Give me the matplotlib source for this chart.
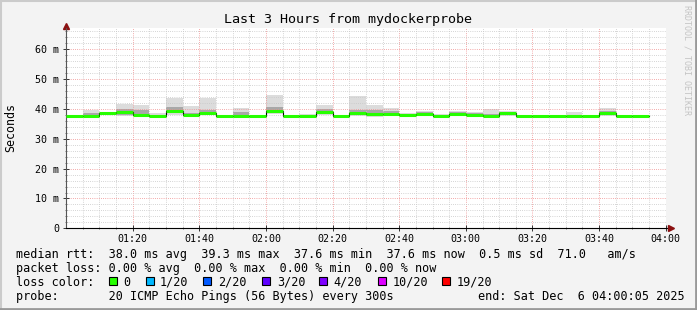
import numpy as np
import matplotlib
matplotlib.use('Agg')
import matplotlib.pyplot as plt
from matplotlib.patches import Rectangle
from matplotlib.ticker import FixedLocator, MultipleLocator

plt.rcParams['font.family'] = 'DejaVu Sans Mono'

# 5 minute steps, minutes after 01:00
step_min = [0, 5, 10, 15, 20, 25, 30, 35, 40, 45, 50, 55, 60, 65, 70, 75, 80, 85,
            90, 95, 100, 105, 110, 115, 120, 125, 130, 135, 140, 145, 150, 155, 160, 165, 170]

# median rtt per step (ms)
median_ms = [37.6, 37.7, 38.8, 39.1, 38.0, 37.6, 39.3, 37.9, 38.8, 37.6, 37.6, 37.6,
             39.3, 37.6, 37.6, 39.1, 37.6, 38.8, 38.3, 38.4, 37.9, 38.3, 37.6, 38.3,
             38.1, 37.7, 38.5, 37.6, 37.6, 37.6, 37.6, 37.6, 38.5, 37.6, 37.6]

# smoke: full spread of the 20 pings
smoke_lo = [37.6, 37.5, 38.7, 37.6, 37.5, 37.5, 38.0, 37.5, 37.9, 37.5, 37.5, 37.5,
            38.2, 37.5, 37.5, 38.0, 37.5, 37.6, 37.3, 37.6, 37.5, 37.6, 37.5, 37.6,
            37.6, 37.5, 37.6, 37.5, 37.5, 37.5, 37.5, 37.5, 37.8, 37.5, 37.5]
smoke_hi = [37.7, 39.5, 38.9, 41.6, 41.3, 38.5, 43.8, 41.0, 43.8, 37.7, 40.4, 37.7,
            44.7, 37.7, 38.4, 41.3, 37.7, 44.3, 41.3, 40.2, 38.8, 39.4, 38.4, 39.3,
            39.1, 40.0, 39.4, 37.7, 37.7, 37.9, 39.1, 37.7, 40.4, 37.7, 37.7]
# smoke: inner (darker) part
core_lo = [37.6, 37.8, 38.8, 38.0, 37.8, 37.6, 38.5, 37.8, 38.3, 37.6, 37.6, 37.6,
           38.6, 37.6, 37.6, 38.4, 37.6, 38.0, 37.6, 37.8, 37.7, 37.9, 37.6, 37.9,
           37.8, 37.6, 37.9, 37.6, 37.6, 37.6, 37.6, 37.6, 37.9, 37.6, 37.6]
core_hi = [37.6, 38.8, 38.8, 40.0, 39.8, 37.9, 40.6, 38.6, 39.6, 37.6, 39.0, 37.6,
           40.8, 37.6, 37.6, 39.9, 37.6, 39.8, 39.8, 39.3, 38.3, 38.9, 37.9, 38.9,
           38.6, 38.4, 39.0, 37.6, 37.6, 37.7, 37.6, 37.6, 39.4, 37.6, 37.6]

x_ticks = [20, 40, 60, 80, 100, 120, 140, 160, 180]
x_labels = ['01:20', '01:40', '02:00', '02:20', '02:40', '03:00', '03:20', '03:40', '04:00']
y_ticks = [0, 10, 20, 30, 40, 50, 60]
y_labels = ['0', '10 m', '20 m', '30 m', '40 m', '50 m', '60 m']

loss_labels = ['0', '1/20', '2/20', '3/20', '4/20', '10/20', '19/20']
loss_colors = ['#26ff00', '#00b8ff', '#0059ff', '#5e00ff', '#7e00ff', '#dd00ff', '#ff0000']

W, H = 697, 310


def fx(x):
    return x / W


def fy(y):
    return 1 - y / H


fig = plt.figure(figsize=(W / 100, H / 100), dpi=100, facecolor='#f3f3f3')
ax = fig.add_axes([fx(66.4), fy(228.3), (666.0 - 66.4) / W, 200 / H])
ax.set_facecolor('white')

edges = np.append(step_min, step_min[-1] + 5)


def ext(a):
    return np.append(a, a[-1])


ax.fill_between(edges, ext(smoke_lo), ext(smoke_hi), step='post', color='#dcdcdc', lw=0, zorder=1)
ax.fill_between(edges, ext(core_lo), ext(core_hi), step='post', color='#a8a8a8', lw=0, zorder=1.1)
ax.step(edges, ext(median_ms), where='post', color='black', lw=0.8, zorder=2.5)
ax.hlines(median_ms, step_min, np.array(step_min) + 5, color=loss_colors[0], lw=2.2,
          capstyle='butt', zorder=3)

ax.set_xlim(0.08, 180.08)
ax.set_ylim(0, 67.05)
ax.xaxis.set_major_locator(FixedLocator(x_ticks))
ax.xaxis.set_minor_locator(MultipleLocator(5))
ax.yaxis.set_major_locator(FixedLocator(y_ticks))
ax.yaxis.set_minor_locator(MultipleLocator(2))
ax.set_xticklabels(x_labels)
ax.set_yticklabels(y_labels)

dots = (0, (0.72, 1.44))
ax.set_axisbelow('line')
ax.grid(which='minor', color='#c8c8c8', lw=0.72, linestyle=dots)
ax.grid(which='major', color='#f09090', lw=0.72, linestyle=dots)

for s in ['top', 'right']:
    ax.spines[s].set_visible(False)
ax.spines['left'].set_color('#555555')
ax.spines['bottom'].set_color('black')
ax.spines['left'].set_linewidth(0.8)
ax.spines['bottom'].set_linewidth(0.8)

ax.tick_params(which='major', direction='inout', length=4, width=0.7, color='#333333',
               labelsize=7.2, pad=2)
ax.tick_params(which='minor', direction='inout', length=2, width=0.6, color='#666666')
ax.tick_params(axis='y', pad=3)

# axis arrows
ax.plot([1.0, 1.008], [0, 0], transform=ax.transAxes, color='black', lw=0.8, clip_on=False)
ax.plot([1.009], [0], marker='>', ms=4, color='#8b1010', transform=ax.transAxes, clip_on=False)
ax.plot([0], [1.014], marker='^', ms=4, color='#8b1010', transform=ax.transAxes, clip_on=False)

fig.text(fx(348), fy(19.5), 'Last 3 Hours from mydockerprobe', ha='center', va='center', fontsize=9.6)
fig.text(fx(10.5), fy(127), 'Seconds', rotation=90, ha='center', va='center', fontsize=8.4)
fig.text(fx(687.5), fy(60), 'RRDTOOL / TOBI OETIKER', rotation=270, ha='center', va='center',
         fontsize=6, color='#c4c4c4')

leg = dict(ha='left', va='center', fontsize=8.5)
fig.text(fx(16), fy(254.3), 'median rtt:  38.0 ms avg  39.3 ms max  37.6 ms min  37.6 ms now'
         '  0.5 ms sd  71.0   am/s', **leg)
fig.text(fx(16), fy(268.3), 'packet loss: 0.00 % avg  0.00 % max  0.00 % min  0.00 % now', **leg)
fig.text(fx(16), fy(282), 'loss color:', **leg)
fig.text(fx(16), fy(296.5), 'probe:       20 ICMP Echo Pings (56 Bytes) every 300s', **leg)
fig.text(fx(478.3), fy(296.5), 'end: Sat Dec  6 04:00:05 2025', **leg)

box_x = [108.7, 145.7, 203.3, 261.7, 319.3, 378.3, 442.3]
lab_x = [123.3, 160.0, 218.3, 276.7, 333.0, 392.7, 456.7]
for bx, lx, lab, col in zip(box_x, lab_x, loss_labels, loss_colors):
    fig.patches.append(Rectangle((fx(bx), fy(285)), 8 / W, 8 / H, transform=fig.transFigure,
                                 facecolor=col, edgecolor='black', lw=0.8))
    fig.text(fx(lx), fy(282), lab, **leg)

# frame shading
fig.add_artist(plt.Line2D([0, 1], [1 - 1 / H, 1 - 1 / H], color='#cbcbcb', lw=1.5))
fig.add_artist(plt.Line2D([1 / W, 1 / W], [0, 1], color='#cbcbcb', lw=1.5))
fig.add_artist(plt.Line2D([0, 1], [1.5 / H, 1.5 / H], color='#999999', lw=2))
fig.add_artist(plt.Line2D([1 - 1.5 / W, 1 - 1.5 / W], [0, 1], color='#999999', lw=2))

fig.savefig('out.png', dpi=100, facecolor=fig.get_facecolor())
